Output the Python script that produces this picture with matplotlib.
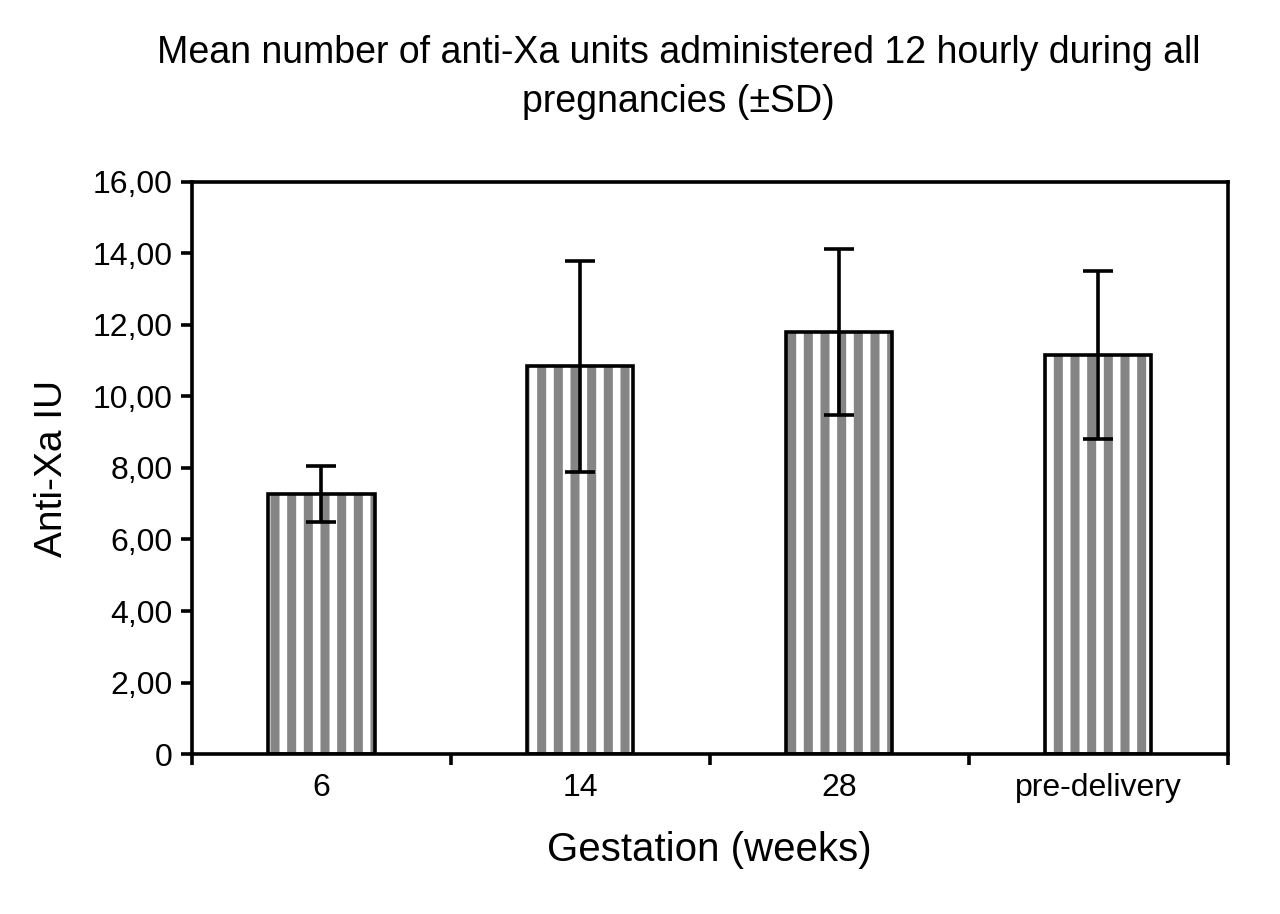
import matplotlib

matplotlib.use("Agg")
import matplotlib.pyplot as plt
from matplotlib.ticker import FuncFormatter

plt.rcParams["font.family"] = ["Liberation Sans Narrow", "Liberation Sans", "DejaVu Sans"]
plt.rcParams["hatch.linewidth"] = 6.5

categories = ["6", "14", "28", "pre-delivery"]
means = [7.28, 10.85, 11.80, 11.16]
sds = [0.78, 2.95, 2.32, 2.34]

fig = plt.figure(figsize=(12.8, 9.14), dpi=100)
ax = fig.add_axes([0.15, 0.175, 0.809, 0.626])

x = range(len(categories))
# hatched fill first (grey stripes), then the black outline on top
ax.bar(x, means, width=0.41, color="white", edgecolor="#858585", hatch="|",
       linewidth=0, zorder=2)
ax.bar(x, means, width=0.41, fill=False, edgecolor="black", linewidth=2.6, zorder=3)
ax.errorbar(x, means, yerr=sds, fmt="none", ecolor="black", elinewidth=2.6,
            capsize=11, capthick=2.6, zorder=4)

ax.set_xlim(-0.5, len(categories) - 0.5)
ax.set_ylim(0, 16)
ax.set_yticks(range(0, 17, 2))
ax.yaxis.set_major_formatter(
    FuncFormatter(lambda v, _: "0" if v == 0 else f"{v:.2f}".replace(".", ",")))
ax.set_xticks(list(x))
ax.set_xticklabels(categories)
ax.set_xticks([i - 0.5 for i in range(len(categories) + 1)], minor=True)
ax.tick_params(axis="x", which="major", length=0, pad=14, labelsize=23)
ax.tick_params(axis="x", which="minor", length=8, width=2.6, direction="out")
ax.tick_params(axis="y", length=8, width=2.6, direction="out", pad=6, labelsize=23)
for side in ax.spines.values():
    side.set_linewidth(2.6)

ax.set_xlabel("Gestation (weeks)", fontsize=29, labelpad=20)
ax.set_ylabel("Anti-Xa IU", fontsize=28, labelpad=16)
fig.text(0.53, 0.915,
         "Mean number of anti-Xa units administered 12 hourly during all\npregnancies (±SD)",
         ha="center", va="center", fontsize=27, linespacing=1.45)

fig.savefig("out.png", dpi=100)
